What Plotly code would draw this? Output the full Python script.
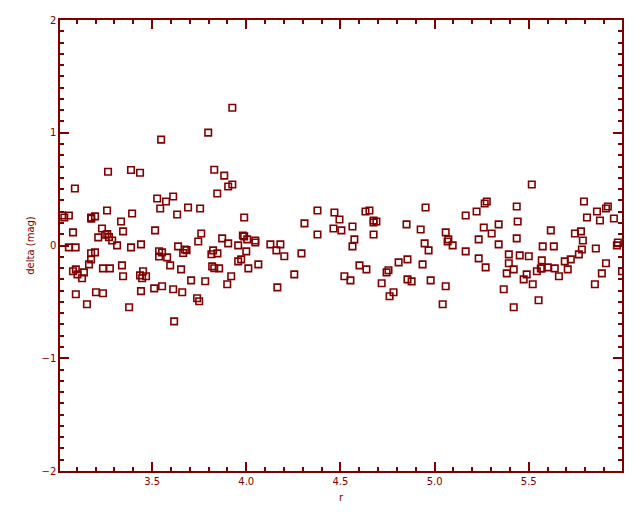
import plotly.graph_objects as go

# r (x) and delta mag (y) values
r = [3.090, 3.527, 3.612, 3.846, 3.574, 3.543, 3.691, 3.755, 3.261, 3.394,
     3.633, 3.023, 3.034, 3.058, 3.176, 3.197, 3.177, 3.335, 3.516, 3.234,
     3.346, 3.080, 3.761, 3.251, 3.262, 3.271, 3.288, 3.214, 3.314, 3.388,
     3.441, 3.745, 3.638, 3.058, 3.094, 3.674, 3.683, 3.665, 3.824, 3.815,
     3.847, 3.537, 3.553, 3.537, 3.580, 3.176, 3.197, 3.176, 3.165, 3.340,
     3.596, 3.819, 3.830, 3.856, 3.239, 3.276, 3.654, 3.080, 3.095, 3.104,
     3.138, 3.128, 3.452, 3.436, 3.468, 3.447, 3.346, 3.707, 3.782, 3.553,
     3.511, 3.612, 3.660, 3.202, 3.239, 3.441, 3.095, 3.739, 3.750, 3.154,
     3.378, 3.617, 3.266, 3.388, 3.436, 3.548, 3.798, 3.830, 3.926, 3.883,
     3.904, 3.926, 4.378, 4.468, 4.633, 4.654, 4.495, 3.989, 4.309, 4.676,
     4.691, 4.676, 4.851, 4.926, 4.463, 4.505, 4.564, 4.378, 4.676, 3.982,
     3.989, 4.005, 3.872, 3.904, 4.048, 4.048, 4.574, 3.957, 4.128, 4.181,
     4.160, 4.564, 4.000, 4.202, 4.293, 3.957, 3.973, 4.064, 4.011, 4.601,
     4.638, 4.856, 4.809, 4.755, 4.745, 4.255, 3.920, 4.521, 4.553, 3.899,
     4.165, 4.856, 4.878, 4.719, 4.782, 4.761, 5.516, 4.952, 5.277, 5.266,
     5.436, 5.223, 5.165, 5.261, 5.340, 5.441, 5.303, 5.059, 4.947, 5.073,
     5.069, 5.096, 4.968, 5.234, 5.436, 5.340, 5.165, 5.234, 5.394, 5.452,
     5.500, 5.394, 5.420, 5.569, 4.936, 5.271, 5.383, 5.489, 5.473, 5.543,
     5.564, 4.979, 5.521, 5.059, 5.367, 5.552, 5.043, 5.420, 5.793, 5.862,
     5.920, 5.910, 5.809, 5.878, 5.952, 5.617, 5.745, 5.777, 5.787, 5.782,
     5.766, 5.856, 5.973, 5.968, 5.574, 5.633, 5.569, 5.601, 5.638, 5.691,
     5.723, 5.707, 5.660, 5.910, 5.888, 5.995, 5.851]

delta = [0.505, 0.417, 0.435, 0.461, 0.390, 0.328, 0.337, 0.328, 0.311, 0.284,
         0.275, 0.266, 0.249, 0.266, 0.249, 0.258, 0.238, 0.213, 0.134, 0.151,
         0.125, 0.116, 0.107, 0.095, 0.101, 0.074, 0.045, 0.072, 0.001, -0.017,
         0.010, 0.036, -0.008, -0.017, -0.017, -0.035, -0.041, -0.067, -0.043, -0.078,
         -0.070, -0.051, -0.061, -0.098, -0.105, -0.069, -0.061, -0.123, -0.167, -0.176,
         -0.176, -0.185, -0.202, -0.203, -0.203, -0.203, -0.212, -0.228, -0.212, -0.256,
         -0.238, -0.291, -0.228, -0.265, -0.273, -0.291, -0.273, -0.309, -0.317, -0.362,
         -0.380, -0.388, -0.415, -0.415, -0.424, -0.405, -0.433, -0.468, -0.495, -0.521,
         -0.548, -0.673, 0.654, 0.670, 0.645, 0.939, 1.001, 0.672, 1.222, 0.620,
         0.523, 0.541, 0.311, 0.293, 0.302, 0.311, 0.231, 0.249, 0.196, 0.222,
         0.213, 0.204, 0.187, 0.142, 0.151, 0.134, 0.169, 0.098, 0.098, 0.089,
         0.081, 0.054, 0.063, 0.019, 0.045, 0.027, 0.054, 0.001, 0.010, 0.010,
         -0.043, -0.008, -0.052, -0.096, -0.070, -0.141, -0.123, -0.167, -0.203, -0.176,
         -0.212, -0.123, -0.150, -0.220, -0.238, -0.256, -0.273, -0.273, -0.309, -0.344,
         -0.371, -0.300, -0.318, -0.335, -0.415, -0.450, 0.541, 0.337, 0.390, 0.373,
         0.346, 0.302, 0.266, 0.160, 0.187, 0.213, 0.107, 0.116, 0.019, 0.054,
         0.036, 0.001, -0.043, 0.054, 0.063, 0.010, -0.052, -0.114, -0.079, -0.088,
         -0.096, -0.158, -0.212, -0.132, -0.167, -0.194, -0.247, -0.256, -0.300, -0.229,
         -0.204, -0.309, -0.344, -0.362, -0.388, -0.486, -0.521, -0.548, 0.390, 0.302,
         0.346, 0.328, 0.249, 0.222, 0.240, 0.134, 0.107, 0.125, 0.045, -0.035,
         -0.079, -0.026, 0.027, 0.001, -0.008, -0.008, -0.203, -0.194, -0.203, -0.141,
         -0.123, -0.212, -0.273, -0.158, -0.247, -0.229, -0.344]

x_ticks = [3.5, 4.0, 4.5, 5.0, 5.5]
x_ticklabels = ["3.5", "4.0", "4.5", "5.0", "5.5"]
y_ticks = [-2, -1, 0, 1, 2]
y_ticklabels = ["\u22122", "\u22121", "0", "1", "2"]

RED = "#800000"
FONT = dict(family="DejaVu Sans", size=10, color=RED)

fig = go.Figure()
fig.add_trace(go.Scatter(
    x=r, y=delta, mode="markers",
    marker=dict(symbol="square-open", size=6.5, color=RED,
                line=dict(color=RED, width=1.6)),
    showlegend=False, hoverinfo="skip"))

axis_common = dict(
    showgrid=False, zeroline=False, showline=True, linecolor=RED, linewidth=1.5,
    mirror="ticks", ticks="inside", ticklen=9, tickwidth=1.5, tickcolor=RED,
    tickfont=FONT, automargin=False,
)

fig.update_xaxes(
    range=[3.011, 5.995], tickvals=x_ticks, ticktext=x_ticklabels,
    minor=dict(ticks="inside", ticklen=4.5, dtick=0.1, tick0=3.0,
               tickcolor=RED, tickwidth=1.5),
    title=dict(text="r", font=FONT, standoff=8),
    **axis_common)
fig.update_yaxes(
    range=[-2, 2], tickvals=y_ticks, ticktext=y_ticklabels,
    minor=dict(ticks="inside", ticklen=4.5, dtick=0.1, tick0=0,
               tickcolor=RED, tickwidth=1.5),
    title=dict(text="delta (mag)", font=FONT, standoff=5),
    **axis_common)

fig.update_layout(
    width=640, height=512,
    margin=dict(l=52, r=26, t=11.5, b=48.6, pad=0, autoexpand=False),
    paper_bgcolor="white", plot_bgcolor="white",
    font=FONT,
)

fig.write_html("out.html")
